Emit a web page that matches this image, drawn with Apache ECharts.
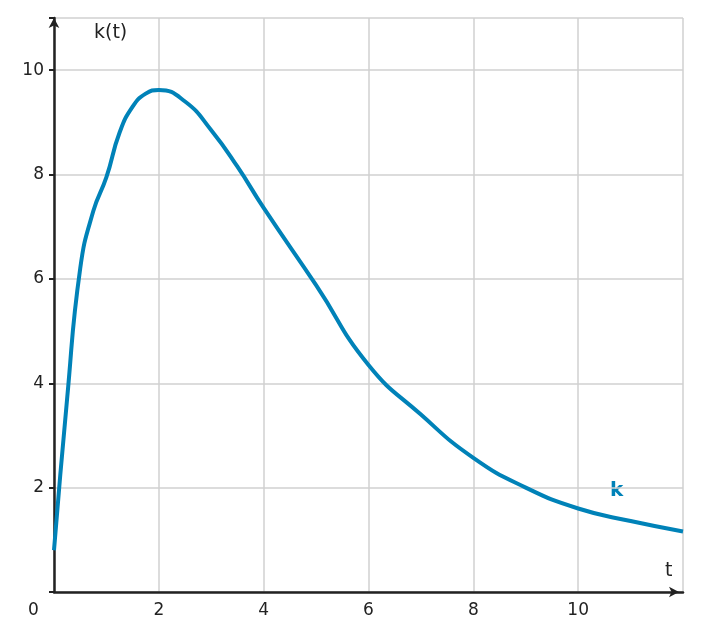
<!DOCTYPE html><html><head><meta charset="utf-8">
<script src="https://cdn.jsdelivr.net/npm/echarts@6/dist/echarts.min.js"></script>
<style>html,body{margin:0;padding:0;background:#fff}#c{width:701px;height:642px}</style></head>
<body><div id="c"></div><script>
const tValues=[0,0.25,0.5,0.75,1,1.25,1.5,1.75,2,2.5,3,3.5,4,5,6,7,8,9,10,11,12];
const kValues=[0.8,3.7,6.2,7.3,7.95,8.8,9.3,9.55,9.62,9.4,8.85,8.15,7.36,5.88,4.35,3.4,2.57,2.0,1.6,1.36,1.16];
const xTicks=[2,4,6,8,10];
const yTicks=[2,4,6,8,10];
const font='DejaVu Sans';
const c=echarts.init(document.getElementById('c'));
c.setOption({
animation:false,
grid:{left:54,right:18,top:18,bottom:50},
xAxis:{type:'value',min:0,max:12,interval:2,
 axisLine:{show:true,onZero:false,symbol:['none','arrow'],symbolSize:[8,10],symbolOffset:[0,-4],lineStyle:{color:'#222',width:2.5}},
 axisTick:{show:false},
 axisLabel:{color:'#222',fontFamily:font,fontSize:17,margin:10,formatter:v=>xTicks.includes(v)?String(v):''},
 splitLine:{show:true,lineStyle:{color:'#d0d0d0',width:1.5}}},
yAxis:{type:'value',min:0,max:11,interval:2,
 axisLine:{show:true,onZero:false,symbol:['none','arrow'],symbolSize:[8,10],lineStyle:{color:'#222',width:2.5}},
 axisTick:{show:true,length:5,lineStyle:{color:'#222',width:2}},
 axisLabel:{color:'#222',fontFamily:font,fontSize:17,margin:10,formatter:v=>yTicks.includes(v)?String(v):''},
 splitLine:{show:true,lineStyle:{color:'#d0d0d0',width:1.5}}},
graphic:[
 {type:'text',left:28,top:602,style:{text:'0',font:'17px DejaVu Sans',fill:'#222'}},
 {type:'text',left:94,top:24,style:{text:'k(t)',font:'19px DejaVu Sans',fill:'#222'}},
 {type:'text',left:665,top:562,style:{text:'t',font:'19px DejaVu Sans',fill:'#222'}},
 {type:'text',left:610,top:481,style:{text:'k',font:'bold 20px DejaVu Sans',fill:'#0082b8'}}
],
series:[{type:'line',smooth:true,showSymbol:false,data:tValues.map((t,i)=>[t,kValues[i]]),
 lineStyle:{color:'#0082b8',width:4},itemStyle:{color:'#0082b8'}}]
});
</script></body></html>
